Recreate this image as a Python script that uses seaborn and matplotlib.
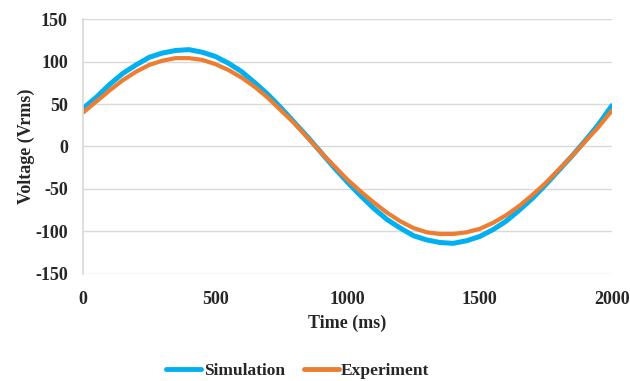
import matplotlib
matplotlib.use("Agg")
import matplotlib.pyplot as plt
import seaborn as sns
import pandas as pd
from matplotlib.lines import Line2D

time_ms = list(range(0, 2001, 50))
simulation = [45, 58, 73, 86, 96, 105, 110, 113, 114, 111, 106, 98, 88, 75, 61, 45, 28, 11,
              -7, -25, -42, -58, -73, -86, -96, -105, -110, -113, -114, -111, -106, -98,
              -88, -75, -61, -45, -28, -11, 7, 26, 48]
experiment = [40, 53, 66, 78, 88, 96, 101, 104, 104, 102, 97, 90, 81, 70, 57, 42, 27, 10,
              -7, -23, -39, -53, -66, -78, -88, -96, -101, -103, -103, -101, -97, -90,
              -81, -70, -57, -43, -27, -11, 6, 23, 42]

df = pd.concat([
    pd.DataFrame({"Time": time_ms, "Voltage": simulation, "Series": "Simulation"}),
    pd.DataFrame({"Time": time_ms, "Voltage": experiment, "Series": "Experiment"}),
])

sns.set_theme(style="white")
plt.rcParams["font.family"] = ["Liberation Serif", "DejaVu Serif"]
plt.rcParams["font.weight"] = "bold"
plt.rcParams["axes.unicode_minus"] = False

fig = plt.figure(figsize=(6.3, 3.81), dpi=100)
ax = fig.add_axes([0.132, 0.281, 0.839, 0.669])

palette = {"Simulation": "#00B0F0", "Experiment": "#ED7D31"}
sns.lineplot(data=df, x="Time", y="Voltage", hue="Series", palette=palette,
             size="Series", sizes={"Simulation": 3.6, "Experiment": 3.0},
             ax=ax, legend=False)

ax.set_xlim(0, 2000)
ax.set_ylim(-150, 150)
ax.set_xticks([0, 500, 1000, 1500, 2000])
ax.set_yticks(range(-150, 151, 50))
ax.grid(axis="y", color="#D9D9D9", linewidth=1)
ax.set_axisbelow(True)
for s in ["top", "right", "bottom"]:
    ax.spines[s].set_visible(False)
ax.spines["left"].set_color("#D9D9D9")
ax.tick_params(axis="y", length=0, labelsize=13, pad=11)
ax.tick_params(axis="x", length=0, labelsize=13, pad=12)
for lbl in ax.get_xticklabels() + ax.get_yticklabels():
    lbl.set_fontweight("bold")
ax.set_xlabel("Time (ms)", fontsize=13, fontweight="bold", labelpad=5)
ax.set_ylabel("Voltage (Vrms)", fontsize=13, fontweight="bold", labelpad=0)

handles = [Line2D([], [], color=palette[k], linewidth=3.5) for k in ["Simulation", "Experiment"]]
fig.legend(handles, ["Simulation", "Experiment"], loc="center", bbox_to_anchor=(0.473, 0.026),
           ncol=2, frameon=False, handlelength=2.0, handletextpad=0.15, columnspacing=1.1,
           prop={"size": 12.5, "weight": "bold"})

fig.savefig("out.png", dpi=100)
